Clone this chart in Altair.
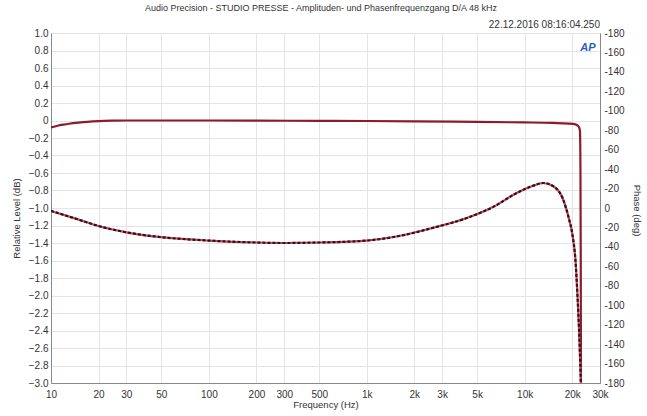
import altair as alt
import pandas as pd

title_text = "Audio Precision - STUDIO PRESSE - Amplituden- und Phasenfrequenzgang D/A 48 kHz"
date_text = "22.12.2016 08:16:04.250"

amp_freq = [10, 11, 12, 13, 15, 17, 20, 25, 30, 50, 100, 200, 500, 1000, 2000, 5000,
            10000, 15000, 19000, 21000, 22000, 22400, 22550, 22650, 22750]
amp_db = [-0.08, -0.06, -0.047, -0.037, -0.024, -0.015, -0.007, -0.002, 0, 0, 0, -0.002,
          -0.004, -0.006, -0.01, -0.016, -0.022, -0.028, -0.035, -0.045, -0.07, -0.12,
          -0.5, -1.5, -3.2]

ph_freq = [10, 15, 20, 30, 50, 100, 200, 300, 500, 1000, 1600, 2600, 4300, 6300, 8900,
           11200, 13100, 15100, 17400, 19000, 20000, 21000, 21600, 22100, 22500, 22700]
ph_deg = [-3, -12, -18.5, -25, -30, -33.5, -35.5, -36, -35.5, -33.5, -28.8, -20.6, -10.3,
          1, 15.4, 22.6, 25.7, 22.6, 10, -10, -26, -55, -90, -125, -160, -180]

x_ticks = [10, 20, 30, 50, 100, 200, 300, 500, 1000, 2000, 3000, 5000, 10000, 20000, 30000]
y_ticks = [round(-3.0 + 0.2 * i, 1) for i in range(21)]
p_ticks = list(range(-180, 181, 20))

amp_df = pd.DataFrame({"f": amp_freq, "db": amp_db})
ph_df = pd.DataFrame({"f": ph_freq, "deg": ph_deg})

FONT = "Liberation Sans"
xscale = alt.Scale(type="log", domain=[10, 30000], nice=False)

x_enc = alt.X("f:Q", scale=xscale, axis=alt.Axis(
    values=x_ticks, title="Frequency (Hz)",
    labelExpr="datum.value >= 1000 ? (datum.value/1000) + 'k' : datum.value",
    grid=True, gridColor="#e4e4e4", ticks=False, domainColor="#888",
    labelFontSize=10, labelColor="#333", labelPadding=6, labelFlush=False,
    titleFontSize=9.5, titleFontWeight="normal", titleColor="#333", titlePadding=0))

amp = alt.Chart(amp_df).mark_line(color="#8a1c2b", strokeWidth=2.2, clip=True,
                                   interpolate="monotone").encode(
    x=x_enc,
    y=alt.Y("db:Q", scale=alt.Scale(domain=[-3, 1], nice=False, zero=False),
            axis=alt.Axis(values=y_ticks, title="Relative Level (dB)",
                          labelExpr="datum.value == 0 ? '0' : format(datum.value, '.1f')",
                          grid=True, gridColor="#e4e4e4", ticks=False, domainColor="#888",
                          labelFontSize=10, labelColor="#333", labelPadding=3,
                          titleFontSize=9.5, titleFontWeight="normal", titleColor="#333",
                          titleX=-30, titleY=185)))

p_scale = alt.Scale(domain=[-180, 180], nice=False, zero=False)
p_axis = alt.Axis(values=p_ticks, title="Phase (deg)", orient="right",
                  labelExpr="datum.value == 0 ? '0' : '-' + abs(datum.value)",
                  grid=False, ticks=False, domainColor="#888",
                  labelFontSize=10, labelColor="#333", labelPadding=4,
                  titleFontSize=9.5, titleFontWeight="normal", titleColor="#333",
                  titleAngle=90, titleX=31, titleY=177)

ph_base = alt.Chart(ph_df).mark_line(color="#c8485a", strokeWidth=2.2, clip=True,
                                      interpolate="monotone").encode(
    x=alt.X("f:Q", scale=xscale),
    y=alt.Y("deg:Q", scale=p_scale, axis=p_axis))
ph_dash = alt.Chart(ph_df).mark_line(color="#2a1518", strokeWidth=2.2, strokeDash=[3, 2],
                                      clip=True, interpolate="monotone").encode(
    x=alt.X("f:Q", scale=xscale),
    y=alt.Y("deg:Q", scale=p_scale, axis=None))

title = alt.Chart(pd.DataFrame({"t": [title_text]})).mark_text(
    align="center", baseline="middle", font=FONT, fontSize=9, color="#333").encode(
    text="t:N", x=alt.value(270), y=alt.value(-25))

date = alt.Chart(pd.DataFrame({"t": [date_text]})).mark_text(
    align="right", baseline="middle", font=FONT, fontSize=10, color="#333").encode(
    text="t:N", x=alt.value(549), y=alt.value(-8))

logo = alt.Chart(pd.DataFrame({"t": ["AP"]})).mark_text(
    align="center", baseline="middle", font=FONT, fontSize=11, fontWeight="bold",
    fontStyle="italic", color="#2a5cc0").encode(
    text="t:N", x=alt.value(537), y=alt.value(15))

chart = alt.layer(amp, ph_base, ph_dash, title, date, logo).resolve_scale(
    y="independent").properties(
    width=549, height=350,
    autosize=alt.AutoSizeParams(type="none"),
    padding={"left": 51, "top": 33, "right": 47, "bottom": 33},
    background="white",
).configure_view(stroke="#999", strokeWidth=1).configure_axis(
    labelFont=FONT, titleFont=FONT)

chart.save("out.html", embed_options={"renderer": "svg", "actions": False})
